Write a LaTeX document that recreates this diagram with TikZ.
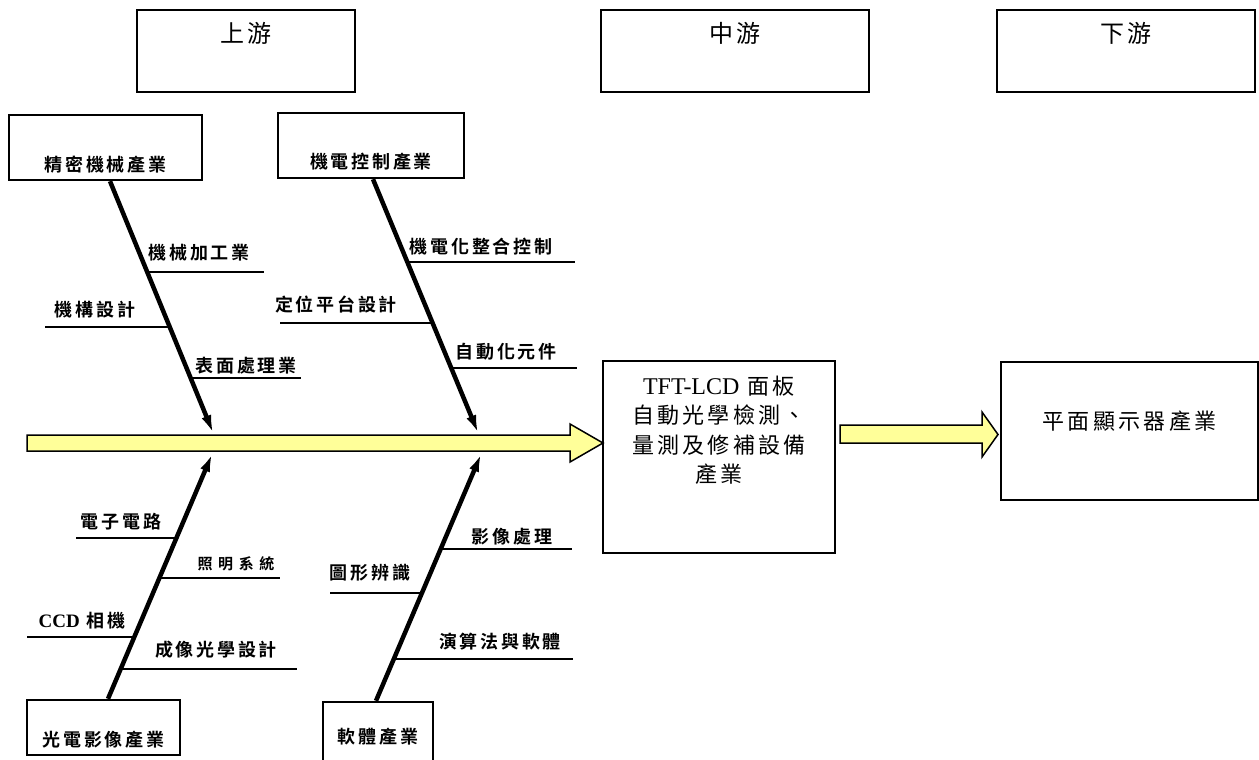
\documentclass[tikz,border=0pt]{standalone}
\usepackage{fontspec}
\setmainfont{Liberation Serif}
\newfontfamily\cjk[LetterSpace=15]{Noto Sans CJK TC}
\newfontfamily\cjkb[LetterSpace=15]{Noto Sans CJK TC Bold}
\usetikzlibrary{arrows.meta,positioning}
\definecolor{paleyellow}{RGB}{255,255,153}

\begin{document}
\begin{tikzpicture}[x=1pt,y=-1pt,
	box/.style={draw,line width=2.4pt,inner sep=0pt},
	bone/.style={line width=4.5pt,-{Latex[length=20pt,width=10pt]}},
	rib/.style={line width=2.4pt},
	lbl/.style={inner sep=0pt,font=\cjkb\fontsize{18}{18}\selectfont},
	txt/.style={inner sep=0pt,font=\cjk\fontsize{22}{22}\selectfont},
	flow/.style={draw,line width=1.5pt,fill=paleyellow,line join=miter}]
	\useasboundingbox (0,0) rectangle (1259,760);
	% stream headers
	\node[box,minimum width=218pt,minimum height=82pt] (up) at (246,51) {};
	\node[box,minimum width=268pt,minimum height=82pt] (midstream) at (735,51) {};
	\node[box,minimum width=258pt,minimum height=82pt] (down) at (1126,51) {};
	\node[txt,font=\cjk\fontsize{24}{24}\selectfont] (uptxt) at ([yshift=-25pt]up.north) {上游};
	\node[txt,font=\cjk\fontsize{24}{24}\selectfont] (midstreamtxt) at ([yshift=-25pt]midstream.north) {中游};
	\node[txt,font=\cjk\fontsize{24}{24}\selectfont] (downtxt) at ([yshift=-25pt]down.north) {下游};
	% cause boxes
	\node[box,minimum width=193pt,minimum height=65pt] (mech) at (105.5,147.5) {};
	\node[lbl] (mechtxt) at ([yshift=17pt]mech.south) {精密機械產業};
	\node[box,minimum width=186pt,minimum height=65pt] (elec) at (371,145.5) {};
	\node[lbl] (electxt) at ([yshift=18pt]elec.south) {機電控制產業};
	\node[box,minimum width=153pt,minimum height=55pt] (opto) at (103.5,727.5) {};
	\node[lbl] (optotxt) at ([yshift=17pt]opto.south) {光電影像產業};
	\node[box,minimum width=110pt,minimum height=70pt] (soft) at (378,737) {};
	\node[lbl] (softtxt) at ([yshift=-36pt]soft.north) {軟體產業};
	% effect boxes
	\node[box,minimum width=232pt,minimum height=192pt] (aoi) at (719,457) {};
	\node[txt,align=center,font=\cjk\fontsize{22}{29.5}\selectfont,anchor=north] (aoitxt) at ([yshift=-16pt]aoi.north)
		{{\rmfamily\fontsize{24}{29.5}\selectfont TFT-LCD} 面板\\自動光學檢測、\\量測及修補設備\\產業};
	\node[box,minimum width=257pt,minimum height=138pt] (fpd) at (1129.5,431) {};
	\node[txt] (fpdtxt) at ([yshift=-60pt]fpd.north) {平面顯示器產業};
	% spine arrows
	\draw[flow] (27,435) -- (570,435) -- (570,424) -- (603,443) -- (570,462) -- (570,451) -- (27,451) -- cycle;
	\draw[flow] (840,425) -- (982,425) -- (982,412) -- (998,434.5) -- (982,457) -- (982,443) -- (840,443) -- cycle;
	% bones
	\coordinate (t1) at (214,435);
	\coordinate (t2) at (479,435);
	\coordinate (t3) at (213,452);
	\coordinate (t4) at (482,452);
	\draw[bone] ([xshift=4.5pt]mech.south) -- (t1);
	\draw[bone] ([xshift=2pt]elec.south) -- (t2);
	\draw[bone] ([xshift=4.5pt]opto.north) -- (t3);
	\draw[bone] ([xshift=-2pt]soft.north) -- (t4);
	% ribs
	\foreach \xa/\xb/\y/\lx/\ly/\t [count=\i] in {
		147.5/264/272/199/253/機械加工業,
		45/170/327/95/310/機構設計,
		191/301/378/246/366/表面處理業,
		408/575/262/481/247/機電化整合控制,
		280/433/323/336/305/定位平台設計,
		451/577/368/506/352/自動化元件,
		76/177/538/121/522/電子電路,
		27/135/637/82/621/{\rmfamily\bfseries\fontsize{19}{19}\selectfont CCD} 相機,
		121/297/669/216/650/成像光學設計,
		441/572/549/512/537/影像處理,
		330/422/593/370/573/圖形辨識,
		394/573/659/500/642/演算法與軟體}{
		\coordinate (ra\i) at (\xa,\y);
		\coordinate (rb\i) at (\xb,\y);
		\draw[rib] (ra\i) -- (rb\i);
		\node[lbl] (l\i) at (\lx,\ly) {\t};
	}
	\coordinate (ra13) at (160,578);
	\coordinate (rb13) at (280,578);
	\draw[rib] (ra13) -- (rb13);
	\node[lbl,font=\cjkb\fontsize{15}{15}\selectfont\addfontfeature{LetterSpace=37}] (l13) at (236,564) {照明系統};
\end{tikzpicture}
\end{document}
